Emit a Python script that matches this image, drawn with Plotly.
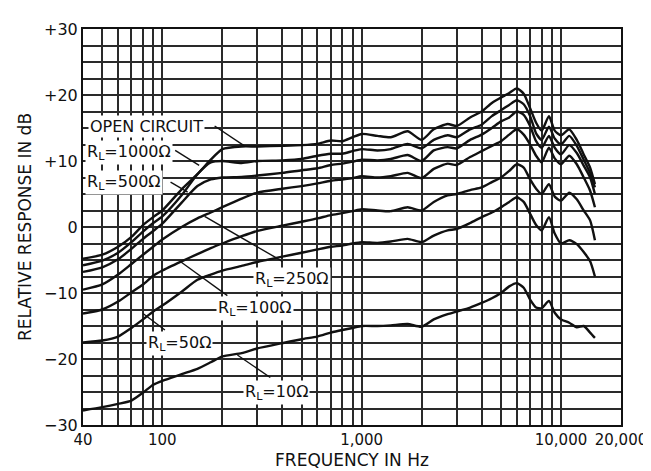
import math
import plotly.graph_objects as go

# ---------------- data ----------------
FREQ = [40, 50, 60, 70, 80, 90, 100, 125, 150, 175, 200, 250, 300, 400, 500, 600, 700, 800, 900,
        1000, 1200, 1400, 1700, 2000, 2300, 2700, 3000, 3500, 4000, 4500, 5000, 5500, 6000, 6500,
        7000, 7500, 8000, 8700, 9300, 10000, 11000, 12000, 13000, 14000, 14800]

DB_OPEN = [-4.8, -4.2, -3.0, -1.5, 0.3, 1.5, 2.5, 5.7, 8.0, 10.2, 11.8, 12.2, 12.2, 12.3, 12.4, 12.6, 13.1,
           13.0, 13.6, 14.1, 13.8, 13.6, 14.5, 13.2, 14.8, 15.6, 15.3, 16.6, 17.5, 18.8, 19.6, 20.3, 21.0,
           20.2, 18.0, 15.8, 14.6, 16.8, 14.6, 13.9, 14.8, 13.2, 11.0, 9.0, 6.5]
DB_1000 = [-5.8, -5.1, -3.9, -2.3, -0.7, 0.6, 1.6, 4.8, 8.0, 9.8, 10.0, 9.7, 10.0, 10.1, 10.3, 10.8, 11.1,
           11.1, 11.5, 11.8, 11.6, 11.8, 12.6, 11.9, 13.2, 13.9, 13.6, 14.8, 15.5, 16.8, 17.7, 18.5, 19.2,
           18.6, 16.8, 14.2, 13.2, 15.2, 13.4, 12.5, 13.8, 12.3, 10.2, 8.2, 6.0]
DB_500 = [-6.8, -6.1, -4.9, -3.3, -1.8, -0.6, 0.5, 3.7, 6.2, 7.2, 7.5, 7.6, 7.8, 8.2, 8.6, 8.9, 9.4,
          9.6, 9.9, 10.2, 10.1, 10.3, 10.9, 10.0, 11.6, 12.1, 11.9, 13.2, 14.0, 15.0, 16.0, 16.6, 17.5,
          17.0, 15.3, 13.0, 12.0, 13.8, 12.0, 11.0, 12.4, 11.2, 9.3, 7.5, 5.0]
DB_250 = [-9.5, -8.7, -7.2, -5.6, -4.2, -3.0, -1.9, 0.0, 1.3, 2.2, 3.0, 4.3, 5.2, 5.8, 6.2, 6.6, 7.0,
          7.2, 7.4, 7.7, 7.5, 7.7, 8.2, 7.4, 8.8, 9.6, 9.4, 10.6, 11.5, 12.3, 13.0, 14.0, 14.8,
          14.0, 12.5, 10.8, 9.8, 12.0, 10.4, 9.5, 10.8, 9.5, 7.5, 5.5, 3.0]
DB_100 = [-13.1, -12.5, -11.3, -9.9, -8.7, -7.4, -6.6, -5.2, -4.1, -3.2, -2.5, -1.4, -0.6, 0.2, 0.8, 1.3, 1.8,
          2.1, 2.4, 2.7, 2.5, 2.4, 3.0, 2.5, 3.8, 4.8, 5.0, 5.6, 6.0, 6.8, 7.5, 8.5, 9.5,
          9.0, 7.2, 5.8, 5.0, 6.5, 4.6, 4.0, 5.2, 4.2, 2.5, 1.0, -2.0]
DB_50 = [-17.5, -17.2, -16.6, -15.3, -14.0, -12.8, -11.9, -9.8, -8.0, -7.2, -6.6, -5.9, -5.3, -4.5, -3.9, -3.4, -3.0,
         -2.8, -2.5, -2.3, -2.4, -2.2, -1.8, -2.3, -1.3, -0.5, -0.3, 0.6, 1.5, 2.2, 3.0, 3.8, 4.5,
         3.8, 2.0, 0.3, -0.5, 1.5, -1.0, -2.5, -2.0, -2.6, -3.8, -5.2, -7.5]
DB_10 = [-27.8, -27.3, -26.8, -26.3, -25.1, -23.9, -23.3, -22.3, -21.5, -20.5, -19.6, -19.1, -18.4, -17.6, -17.0, -16.6, -16.0,
         -15.6, -15.3, -15.0, -15.0, -14.9, -14.7, -15.1, -14.0, -13.2, -12.8, -12.2, -11.5, -10.8, -10.0, -9.0, -8.5,
         -9.2, -11.0, -12.2, -12.3, -11.2, -13.0, -14.0, -14.5, -15.2, -15.0, -16.0, -16.8]

SERIES = [DB_OPEN, DB_1000, DB_500, DB_250, DB_100, DB_50, DB_10]

X_TICKS = [40, 100, 1000, 10000, 20000]
X_TICKTEXT = ["40", "100", "1,000", "10,000", "20,000"]
X_GRID = [40, 50, 60, 70, 80, 90, 100, 200, 300, 400, 500, 600, 700, 800, 900,
          1000, 2000, 3000, 4000, 5000, 6000, 7000, 8000, 9000, 10000, 20000]
Y_TICKS = [-30, -20, -10, 0, 10, 20, 30]
Y_TICKTEXT = ["\u221230", "\u221220", "\u221210", "0", "+10", "+20", "+30"]

# label texts, label anchor (freq, dB), leader line (freq pair, dB pair)
LABELS = ["OPEN CIRCUIT", "R<sub>L</sub>=1000\u03a9", "R<sub>L</sub>=500\u03a9", "R<sub>L</sub>=250\u03a9",
          "R<sub>L</sub>=100\u03a9", "R<sub>L</sub>=50\u03a9", "R<sub>L</sub>=10\u03a9"]
LABEL_F = [42.4, 41.0, 41.0, 449, 293, 122, 373]
LABEL_DB = [15.3, 11.3, 6.8, -7.9, -12.35, -17.6, -25.1]
LABEL_ANCHOR = ["left", "left", "left", "center", "center", "center", "center"]
LEADER_F = [(183, 258), (116, 153), (110, 134), (163, 400), (124, 212), (80, 103), (238, 348)]
LEADER_DB = [(15.3, 12.3), (11.6, 9.35), (6.8, 5.3), (1.6, -5.2), (-5.3, -10.4), (-13.1, -15.6), (-19.4, -22.8)]

FONT = "DejaVu Sans"
GRID = "#2a2a2a"

fig = go.Figure()
for s in SERIES:
    fig.add_trace(go.Scatter(x=FREQ, y=s, mode="lines",
                             line=dict(color="#111111", width=2.4, shape="spline", smoothing=0.6),
                             showlegend=False, hoverinfo="skip"))
for fpair, dpair in zip(LEADER_F, LEADER_DB):
    fig.add_trace(go.Scatter(x=list(fpair), y=list(dpair), mode="lines",
                             line=dict(color="#111111", width=1.4), showlegend=False, hoverinfo="skip"))

for txt, f, d, anc in zip(LABELS, LABEL_F, LABEL_DB, LABEL_ANCHOR):
    fig.add_annotation(x=math.log10(f), y=d, xref="x", yref="y", text=txt, showarrow=False,
                       xanchor=anc, yanchor="middle", bgcolor="white", borderpad=1,
                       font=dict(family=FONT, size=16, color="#111111"))

fig.update_layout(
    width=651, height=471,
    margin=dict(l=75, r=36, t=17, b=53),
    paper_bgcolor="white", plot_bgcolor="white",
    font=dict(family=FONT, size=16, color="#111111"),
    xaxis=dict(type="log", range=[math.log10(40), math.log10(20000)],
               tickmode="array", tickvals=X_TICKS, ticktext=X_TICKTEXT,
               showgrid=True, gridcolor=GRID, gridwidth=1.6,
               minor=dict(tickmode="array", tickvals=X_GRID, showgrid=True, gridcolor=GRID, gridwidth=1.6),
               showline=True, linecolor="#111111", linewidth=1.5, mirror=True, zeroline=False,
               ticks="", tickfont=dict(size=15),
               title=dict(text="FREQUENCY IN Hz", font=dict(size=17), standoff=6)),
    yaxis=dict(range=[-30, 30], tickmode="array", tickvals=Y_TICKS, ticktext=Y_TICKTEXT,
               showgrid=True, gridcolor=GRID, gridwidth=1.6,
               minor=dict(dtick=2.5, tick0=0, showgrid=True, gridcolor=GRID, gridwidth=1.6),
               showline=True, linecolor="#111111", linewidth=2, mirror=True, zeroline=False,
               ticks="", tickfont=dict(size=16),
               title=dict(text="RELATIVE RESPONSE IN dB", font=dict(size=17), standoff=8)),
)

fig.write_html("out.html")
